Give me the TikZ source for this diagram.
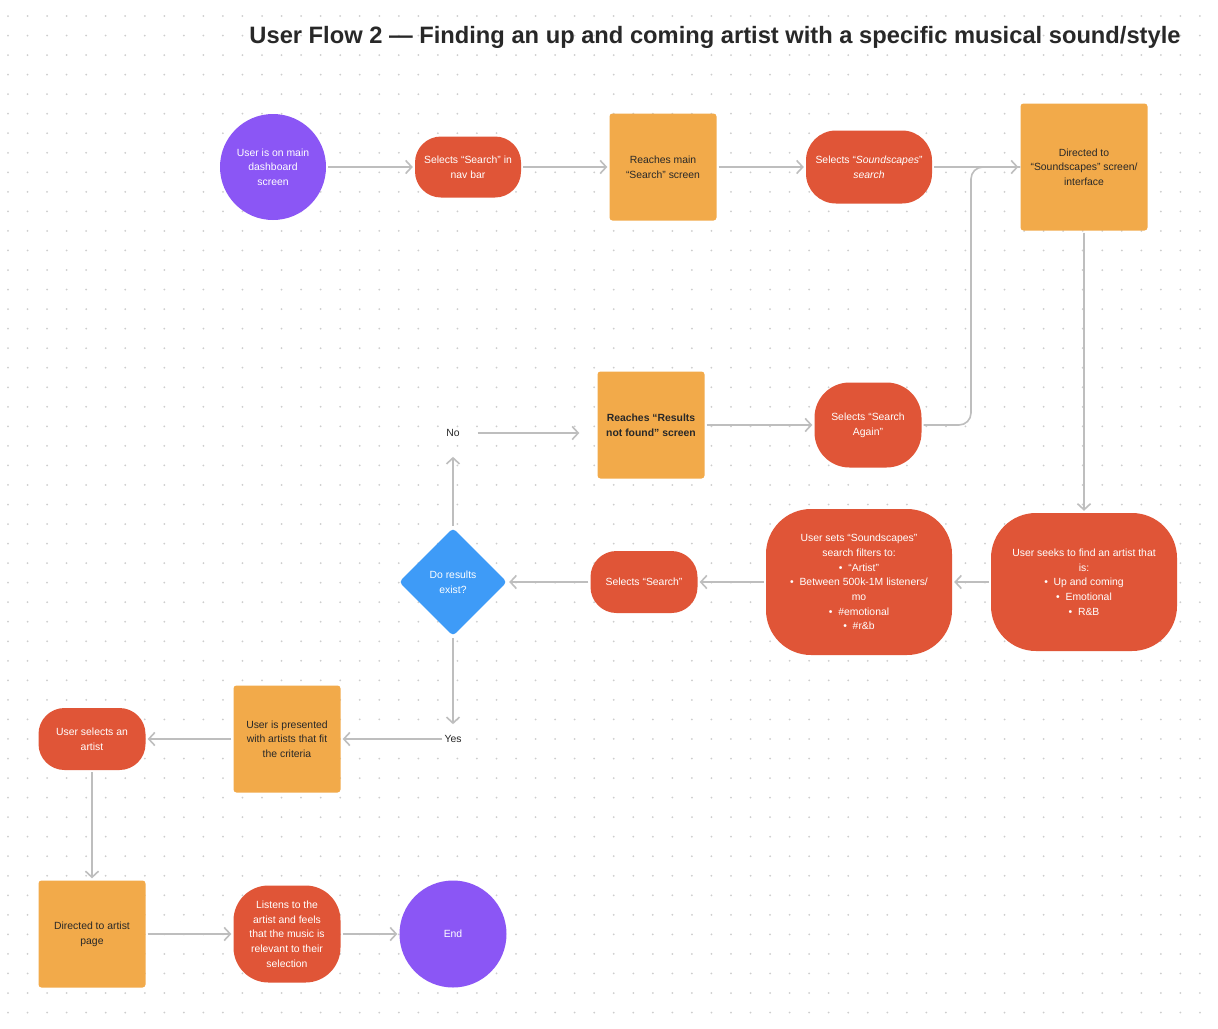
\documentclass[tikz,border=0pt]{standalone}
\usepackage{fontspec}
\setmainfont{Liberation Sans}
\usetikzlibrary{shapes.geometric,arrows.meta,positioning,calc}

\definecolor{flowpurple}{RGB}{139,86,245}
\definecolor{flowred}{RGB}{224,85,55}
\definecolor{floworange}{RGB}{242,170,74}
\definecolor{flowblue}{RGB}{62,155,247}
\definecolor{linegray}{RGB}{190,190,190}
\definecolor{dotgray}{RGB}{205,205,205}
\definecolor{textdark}{RGB}{40,40,40}

\tikzset{
  base/.style={align=center,inner sep=0pt,font=\fontsize{10.4}{14.7}\selectfont},
  startend/.style={base,circle,fill=flowpurple,text=white,minimum size=106pt},
  action/.style={base,rectangle,rounded corners=26pt,fill=flowred,text=white},
  screen/.style={base,rectangle,rounded corners=3pt,fill=floworange,text=textdark,minimum size=107pt},
  decision/.style={base,diamond,rounded corners=4pt,fill=flowblue,text=white,minimum size=108pt},
  answer/.style={base,text=textdark},
  flow/.style={draw=linegray,line width=1.6pt,shorten >=2pt,shorten <=2pt,
    -{Straight Barb[length=6pt,width=13pt]}},
  link/.style={draw=linegray,line width=1.6pt},
  title/.style={font=\bfseries\fontsize{23.7}{28}\selectfont,text=textdark,inner sep=0pt}
}

\begin{document}
\begin{tikzpicture}[x=1pt,y=-1pt]
\fill[white] (0,0) rectangle (1218,1028);
\useasboundingbox (0,0) rectangle (1218,1028);

\foreach \i in {0,...,61}
  \foreach \j in {0,...,51}
    \fill[dotgray] ({8+\i*19.54},{16+\j*19.54}) circle (1pt);

\node[title] (heading) at (715,37) {User Flow 2 — Finding an up and coming artist with a specific musical sound/style};

\node[startend] (start) at (273,167) {User is on main\\dashboard\\screen};
\node[action,minimum width=106pt,minimum height=61pt] (navsearch) at (468,167) {Selects “Search” in\\nav bar};
\node[screen] (searchscreen) at (663,167) {Reaches main\\“Search” screen};
\node[action,minimum width=126pt,minimum height=73pt,rounded corners=30pt] (soundsel) at (869,167) {Selects “\textit{Soundscapes}”\\\textit{search}};
\node[screen,minimum size=127pt] (soundscreen) at (1084,167) {Directed to\\“Soundscapes” screen/\\interface};

\node[action,minimum width=186pt,minimum height=138pt,rounded corners=45pt] (seekartist) at (1084,582)
  {User seeks to find an artist that\\is:\\• \ Up and coming\\• \ Emotional\\• \ R\&B};
\node[action,minimum width=186pt,minimum height=146pt,rounded corners=45pt] (setfilters) at (859,582)
  {User sets “Soundscapes”\\search filters to:\\• \ “Artist”\\• \ Between 500k-1M listeners/\\mo\\• \ \#emotional\\• \ \#r\&b};
\node[action,minimum width=107pt,minimum height=62pt] (selsearch) at (644,582) {Selects “Search”};
\node[decision] (results) at (453,582) {Do results\\exist?};

\node[answer] (nolabel) at (453,433) {No};
\node[screen,font=\bfseries\fontsize{10.4}{14.7}\selectfont] (notfound) at (651,425) {Reaches “Results\\not found” screen};
\node[action,minimum width=107pt,minimum height=85pt,rounded corners=35pt] (searchagain) at (868,425) {Selects “Search\\Again”};
\coordinate (merge) at (971,167);

\node[answer] (yeslabel) at (453,739) {Yes};
\node[screen] (presented) at (287,739) {User is presented\\with artists that fit\\the criteria};
\node[action,minimum width=107pt,minimum height=62pt] (selartist) at (92,739) {User selects an\\artist};
\node[screen] (artistpage) at (92,934) {Directed to artist\\page};
\node[action,minimum width=107pt,minimum height=97pt,rounded corners=35pt] (listens) at (287,934)
  {Listens to the\\artist and feels\\that the music is\\relevant to their\\selection};
\node[startend,minimum size=107pt] (finish) at (453,934) {End};

\draw[flow] (start) -- (navsearch);
\draw[flow] (navsearch) -- (searchscreen);
\draw[flow] (searchscreen) -- (soundsel);
\draw[flow] (soundsel) -- (soundscreen);
\draw[flow] (soundscreen) -- (seekartist);
\draw[flow] (seekartist) -- (setfilters);
\draw[flow] (setfilters) -- (selsearch);
\draw[flow] (selsearch) -- (results);
\draw[flow,shorten >=20pt] (results) -- (nolabel);
\draw[flow,shorten <=18pt,shorten >=18pt] (nolabel.east) -- (nolabel.east -| notfound.west);
\draw[flow] (notfound) -- (searchagain);
\draw[link,rounded corners=12pt,shorten <=2pt] (searchagain) -| (merge) -- (soundscreen.west);
\draw[flow,shorten >=11pt] (results) -- (yeslabel);
\draw[flow] (yeslabel) -- (presented);
\draw[flow] (presented) -- (selartist);
\draw[flow] (selartist) -- (artistpage);
\draw[flow] (artistpage) -- (listens);
\draw[flow] (listens) -- (finish);
\end{tikzpicture}
\end{document}
